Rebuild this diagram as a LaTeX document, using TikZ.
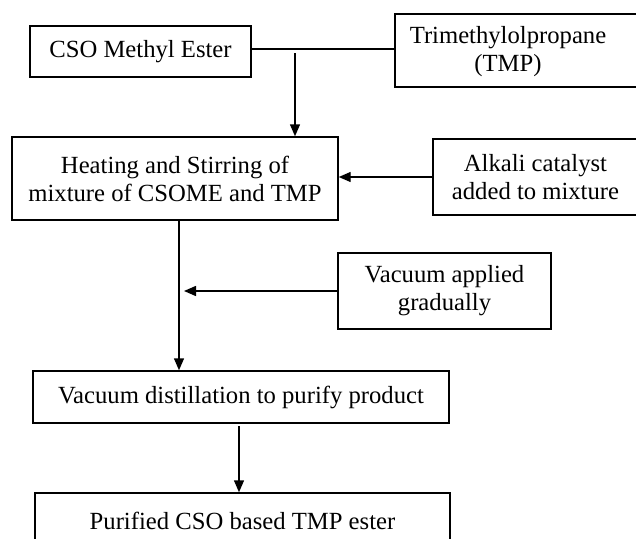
\documentclass[tikz,border=0pt]{standalone}
\usepackage{fontspec}
\setmainfont{Liberation Serif}
\usetikzlibrary{arrows.meta}
\tikzset{%
    every node/.style={font=\fontsize{18.5}{21}\selectfont, align=center},
    box/.style={rectangle, draw, line width=1.1pt, inner sep=0pt},
    arr/.style={line width=1.1pt, -{Triangle[length=9pt,width=7.5pt]}}
}

\begin{document}
\begin{tikzpicture}[x=0.75pt, y=-0.75pt, line width=1.1pt]
  \clip (0,0) rectangle (636,539);

  \node (cso) [box, minimum width=165.75pt, minimum height=38.25pt] at (140.5,51.5) {CSO Methyl Ester};
  \node (tmp) [box, minimum width=191.25pt, minimum height=54.75pt] at (522.5,50.5) {};
  \node (tmpt) at (508,52) {Trimethylolpropane\\(TMP)};
  \node (heat) [box, minimum width=244.5pt, minimum height=62.25pt] at (175,178.5)
    {Heating and Stirring of\\mixture of CSOME and TMP};
  \node (alk) [box, minimum width=153.75pt, minimum height=57pt] at (535.5,177)
    {Alkali catalyst\\added to mixture};
  \node (vac) [box, minimum width=159.75pt, minimum height=57pt] at (444.5,291)
    {Vacuum applied\\gradually};
  \node (dist) [box, minimum width=312pt, minimum height=39pt] at (241,397)
    {Vacuum distillation to purify product};
  \node (pure) [box, minimum width=311.25pt, minimum height=42pt] at (242.5,521)
    {Purified CSO based TMP ester};

  \coordinate (join) at (295,49);
  \coordinate (down) at (179,291);
  \coordinate (vacend) at (184,291);

  \draw (cso.east |- join) -- (tmp.west |- join);
  \draw [arr, shorten <=3pt] (join) -- (join |- heat.north);
  \draw [arr] (alk.west) -- (heat.east |- alk.west);
  \draw [arr] (heat.south -| down) -- (dist.north -| down);
  \draw [arr] (vac.west) -- (vacend);
  \draw [arr, shorten <=2pt] (dist.south -| 239,0) -- (pure.north -| 239,0);
\end{tikzpicture}
\end{document}
